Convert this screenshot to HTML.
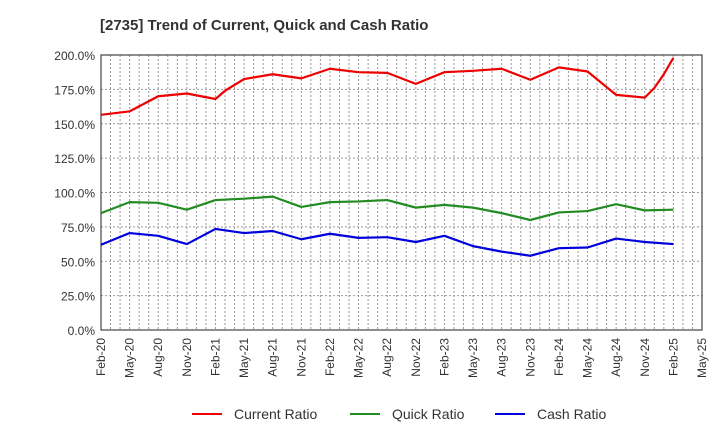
<!DOCTYPE html>
<html><head><meta charset="utf-8"><style>
body{margin:0;background:#fff;font-family:"Liberation Sans",sans-serif}
</style></head><body>
<svg width="720" height="440" xmlns="http://www.w3.org/2000/svg" id="chart">
<text x="100" y="30" font-size="15" font-weight="bold" fill="#333">[2735]  Trend of Current, Quick and Cash Ratio</text>
<g id="grid"></g><g id="axes"></g><g id="series"></g>
<g id="legend">
<line x1="192" y1="414" x2="222" y2="414" stroke="#e00" stroke-width="2"/><text x="234" y="419" font-size="14" fill="#333">Current Ratio</text>
<line x1="350" y1="414" x2="380" y2="414" stroke="#228b22" stroke-width="2"/><text x="392" y="419" font-size="14" fill="#333">Quick Ratio</text>
<line x1="495" y1="414" x2="525" y2="414" stroke="#00d" stroke-width="2"/><text x="537" y="419" font-size="14" fill="#333">Cash Ratio</text>
</g>
</svg>
<script>
const xLabels=["Feb-20","May-20","Aug-20","Nov-20","Feb-21","May-21","Aug-21","Nov-21","Feb-22","May-22","Aug-22","Nov-22","Feb-23","May-23","Aug-23","Nov-23","Feb-24","May-24","Aug-24","Nov-24","Feb-25","May-25"];
const yTicks=[0,25,50,75,100,125,150,175,200];
const currentMonths=[0,3,6,9,12,13,15,18,21,24,27,30,33,36,39,42,45,48,51,54,57,58,59,60];
const currentVals=[156.5,159,170,172,168,174,182.5,186,183,190,187.5,187,179,187.5,188.5,190,182,191,188,171,169,176,186,198];
const months=[0,3,6,9,12,15,18,21,24,27,30,33,36,39,42,45,48,51,54,57,60];
const quickVals=[85,93,92.5,87.5,94.5,95.5,97,89.5,93,93.5,94.5,89,91,89,85,80,85.5,86.5,91.5,87,87.5];
const cashVals=[62,70.5,68.5,62.5,73.5,70.5,72,66,70,67,67.5,64,68.5,61,57,54,59.5,60,66.5,64,62.5];
const L=101,R=702,T=55,B=330,NM=63;
const xs=m=>L+(R-L)*m/NM, ys=v=>B-(B-T)*v/200;
const NS="http://www.w3.org/2000/svg";
function mk(p,t,a){const e=document.createElementNS(NS,t);for(const k in a)e.setAttribute(k,a[k]);document.getElementById(p).appendChild(e);return e;}
for(let m=1;m<NM;m++){const l=mk('grid','line',{x1:xs(m),x2:xs(m),y1:T,y2:B,stroke:'#999','stroke-dasharray':'2,2','stroke-width':1});

}
yTicks.forEach(v=>{if(v>0){const l=mk('grid','line',{x1:L,x2:R,y1:ys(v),y2:ys(v),stroke:'#999','stroke-dasharray':'2,2','stroke-width':1});

}
const t=mk('axes','text',{x:L-6,y:ys(v)+5,'text-anchor':'end','font-size':12,fill:'#333'});t.textContent=v.toFixed(1)+'%';

});
xLabels.forEach((s,i)=>{const x=xs(i*3),y=B+8;const t=mk('axes','text',{x:x,y:y,transform:`rotate(-90 ${x} ${y})`,'text-anchor':'end','font-size':12,fill:'#333',dy:4});t.textContent=s;

});
const fr=mk('axes','rect',{x:L,y:T,width:R-L,height:B-T,fill:'none',stroke:'#444','stroke-width':1.2});


function line(ms,vs,c,n){const p=mk('series','polyline',{points:ms.map((m,i)=>xs(m)+','+ys(vs[i])).join(' '),fill:'none',stroke:c,'stroke-width':2.2,'stroke-linejoin':'round'});

}
line(currentMonths,currentVals,'#e00','current-ratio-line');
line(months,quickVals,'#228b22','quick-ratio-line');
line(months,cashVals,'#00d','cash-ratio-line');
</script>
</body></html>
